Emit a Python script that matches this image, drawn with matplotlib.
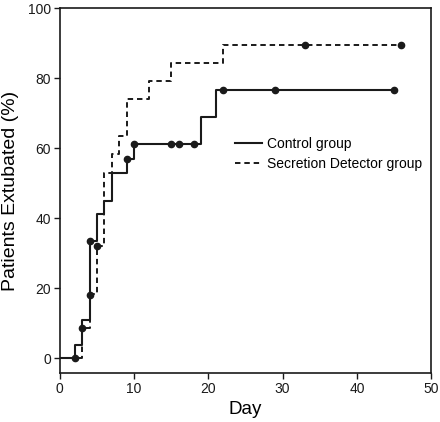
import numpy as np
import matplotlib
matplotlib.use("Agg")
import matplotlib.pyplot as plt

plt.rcParams['font.family'] = ['Liberation Sans', 'DejaVu Sans']

# --- Kaplan-Meier style step data ---
control_days = [0, 2, 3, 4, 5, 6, 7, 9, 10, 19, 21, 45]
control_pct = [0, 3.7, 11.0, 33.5, 41.2, 45.0, 53.0, 57.0, 61.3, 69.0, 76.7, 76.7]
control_cens_days = [2, 4, 9, 10, 15, 16, 18, 22, 29, 45]
control_cens_pct = [0, 33.5, 57.0, 61.3, 61.3, 61.3, 61.3, 76.7, 76.7, 76.7]

detector_days = [0, 3, 4, 5, 6, 7, 8, 9, 12, 15, 22, 46]
detector_pct = [0, 8.7, 18.3, 32.0, 53.0, 58.4, 63.5, 74.0, 79.2, 84.4, 89.5, 89.5]
detector_cens_days = [3, 4, 5, 33, 46]
detector_cens_pct = [8.7, 18.0, 32.0, 89.5, 89.5]

line_col = '#1a1a1a'

fig = plt.figure(figsize=(4.4, 4.22), dpi=100)
ax = fig.add_axes([0.136, 0.115, 0.844, 0.865])

ax.plot(control_days, control_pct, drawstyle='steps-post', color=line_col,
        lw=1.5, label='Control group')
ax.plot(detector_days, detector_pct, drawstyle='steps-post', color=line_col,
        lw=1.4, linestyle=(0, (2.8, 2.0)), label='Secretion Detector group')
ax.plot(control_cens_days, control_cens_pct, 'o', color=line_col, ms=4.5, zorder=3)
ax.plot(detector_cens_days, detector_cens_pct, 'o', color=line_col, ms=4.5, zorder=3)

ax.set_xlim(0, 50)
ax.set_ylim(-4.3, 100)
ax.set_xticks(np.arange(0, 51, 10))
ax.set_yticks(np.arange(0, 101, 20))
ax.tick_params(direction='out', length=4, width=1, pad=2.5, labelsize=10, colors=line_col)
for sp in ax.spines.values():
    sp.set_linewidth(1.2)
    sp.set_color(line_col)

ax.set_xlabel('Day', fontsize=13.5, labelpad=3)
ax.set_ylabel('Patients Extubated (%)', fontsize=14, labelpad=6)

ax.legend(loc='upper left', bbox_to_anchor=(0.472, 0.648), frameon=False,
          borderpad=0, borderaxespad=0,
          fontsize=10, handlelength=1.95, handletextpad=0.35, labelspacing=0.45)

fig.savefig('out.png', dpi=100)
